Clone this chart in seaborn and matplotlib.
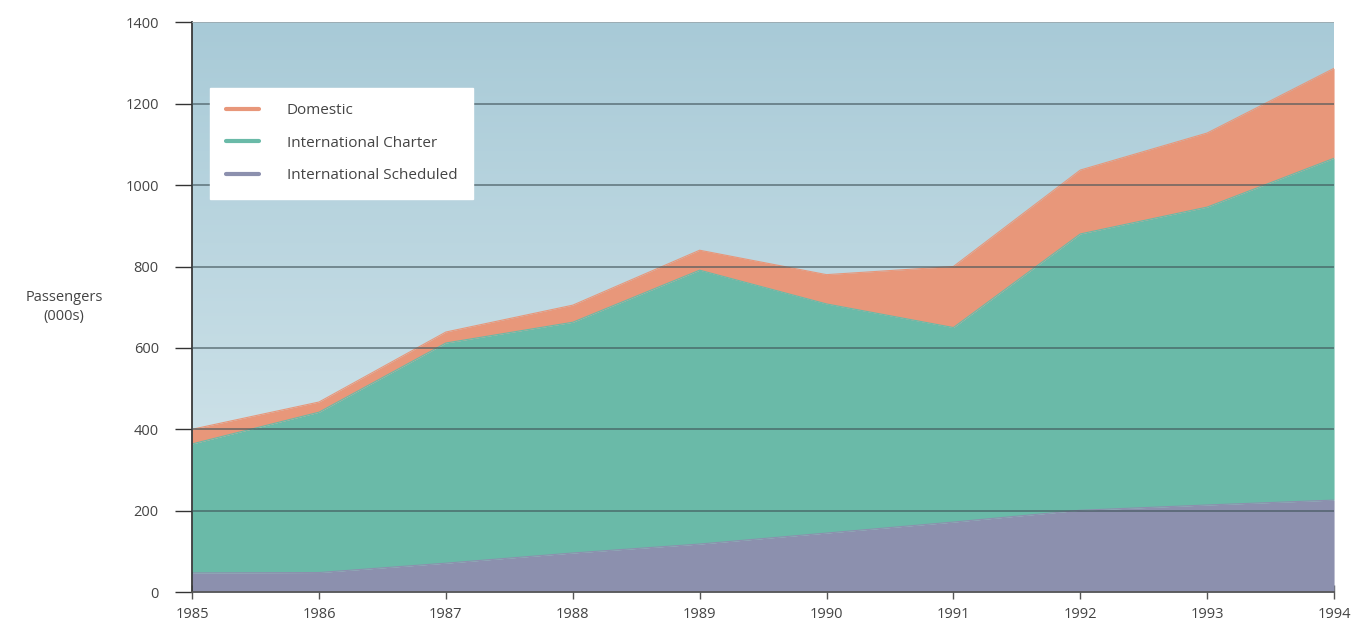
import matplotlib
matplotlib.use("Agg")
import matplotlib.pyplot as plt
from matplotlib.colors import LinearSegmentedColormap
from matplotlib.lines import Line2D
import numpy as np
import pandas as pd
import seaborn as sns

# данные (тыс. пассажиров)
years = [1985, 1986, 1987, 1988, 1989, 1990, 1991, 1992, 1993, 1994]
intl_scheduled = [47, 48, 71, 96, 118, 145, 172, 201, 214, 226]
intl_charter = [317, 394, 541, 567, 673, 563, 478, 679, 732, 840]
domestic = [36, 25, 27, 42, 49, 72, 150, 157, 182, 221]

series_names = ["Domestic", "International Charter", "International Scheduled"]
colors = {"Domestic": "#e8977a",
          "International Charter": "#6abaa8",
          "International Scheduled": "#8c90ae"}

df = pd.DataFrame({"year": years,
                   "International Scheduled": intl_scheduled,
                   "International Charter": intl_charter,
                   "Domestic": domestic})

sns.set_theme(style="ticks")
plt.rcParams["font.family"] = ["Open Sans", "DejaVu Sans"]

fig = plt.figure(figsize=(13.53, 6.38), dpi=100)
ax = fig.add_axes([0.142, 0.072, 0.844, 0.893])

# градиентный фон
bg = LinearSegmentedColormap.from_list("bg", ["#d9e9ee", "#a8cad7"])
grad = np.linspace(0, 1, 256).reshape(-1, 1)
ax.imshow(grad, extent=[1985, 1994, 0, 1400], origin="lower", cmap=bg,
          aspect="auto", zorder=0)

ax.stackplot(df["year"], df["International Scheduled"], df["International Charter"],
             df["Domestic"],
             colors=[colors["International Scheduled"], colors["International Charter"],
                     colors["Domestic"]], zorder=1, linewidth=0)

# верхние границы слоёв
df["charter_top"] = df["International Scheduled"] + df["International Charter"]
df["total"] = df["charter_top"] + df["Domestic"]
sns.lineplot(data=df, x="year", y="International Scheduled", ax=ax,
             color=colors["International Scheduled"], lw=0.8, zorder=2)
sns.lineplot(data=df, x="year", y="charter_top", ax=ax,
             color=colors["International Charter"], lw=0.8, zorder=2)
sns.lineplot(data=df, x="year", y="total", ax=ax,
             color=colors["Domestic"], lw=0.8, zorder=2)

ax.set_xlim(1985, 1994)
ax.set_ylim(0, 1400)
ax.set_xticks(years)
ax.set_yticks(range(0, 1401, 200))
for yv in range(200, 1400, 200):
    ax.axhline(yv, color="#3f5258", lw=1.1, alpha=0.75, zorder=3)
ax.axhline(1400, color="#9aa8ad", lw=1.2, zorder=3)

ax.tick_params(axis="y", length=12, width=1, color="#333333", labelsize=10.5,
               labelcolor="#444444", pad=12)
ax.tick_params(axis="x", length=10, width=1, color="#555555", labelsize=10.5,
               labelcolor="#444444", pad=6, direction="inout")
for s in ["top", "right"]:
    ax.spines[s].set_visible(False)
ax.spines["left"].set_color("#333333")
ax.spines["bottom"].set_color("#555555")
ax.set_xlabel("")
ax.set_ylabel("Passengers\n(000s)", rotation=0, fontsize=10.5, color="#444444",
              ha="center", va="center", linespacing=1.4)
ax.yaxis.set_label_coords(-0.112, 0.5)

handles = [Line2D([0], [0], color=colors[n], lw=3) for n in series_names]
leg = ax.legend(handles, series_names, loc="upper left",
                bbox_to_anchor=(0.016, 0.885), frameon=True, fancybox=False,
                framealpha=1, edgecolor="white", facecolor="white",
                fontsize=11, handlelength=2.2, handletextpad=1.8,
                labelspacing=1.15, borderpad=1.0, borderaxespad=0)
for t in leg.get_texts():
    t.set_color("#444444")
leg.set_zorder(5)

fig.savefig("out.png", dpi=100)
